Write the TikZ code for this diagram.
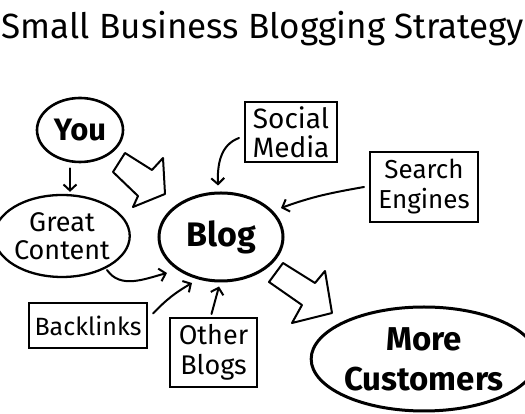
\documentclass[tikz,border=0pt]{standalone}
\usepackage{fontspec}
\setmainfont{Fira Sans}
\usetikzlibrary{shapes.geometric,arrows.meta,calc}
\begin{document}
\begin{tikzpicture}[x=1pt,y=1pt,
  oval/.style={ellipse, draw, line width=2.6pt, inner sep=0pt, align=center},
  box/.style={rectangle, draw, line width=2pt, inner sep=0pt, align=center},
  conn/.style={line width=2pt, line cap=round, -{Straight Barb[length=6pt,width=13pt,line width=2pt]}},
  fat/.style={line width=2pt, line join=round, fill=white}]
\useasboundingbox (0,0) rectangle (525,414);
\fill[white] (0,0) rectangle (525,414);
% title
\node[font=\fontsize{35}{40}\selectfont] (title) at (263,385) {Small Business Blogging Strategy};
% nodes
\node[oval, minimum width=86, minimum height=64, font=\bfseries\fontsize{31}{36}\selectfont] (you) at (80,284) {You};
\node[oval, line width=2.3pt, minimum width=122, minimum height=82, font=\fontsize{27}{28}\selectfont] (great) at (62,178) {Great\\Content};
\node[oval, line width=3pt, minimum width=124, minimum height=88, font=\bfseries\fontsize{34}{40}\selectfont] (blog) at (221,177) {Blog};
\node[box, minimum width=92, minimum height=60, font=\fontsize{28}{29}\selectfont] (social) at (291,282) {Social\\Media};
\node[box, minimum width=108, minimum height=70, font=\fontsize{26}{30}\selectfont] (search) at (424,227) {Search\\Engines};
\node[box, minimum width=118, minimum height=45, font=\fontsize{25}{28}\selectfont] (back) at (88,88.5) {Backlinks};
\node[box, minimum width=87, minimum height=69, font=\fontsize{27}{30}\selectfont] (other) at (213.5,61.5) {Other\\Blogs};
\node[oval, line width=3pt, minimum width=196, minimum height=104, font=\bfseries\fontsize{33}{40}\selectfont] (more) at (424,55) {More\\Customers};
% connectors
\draw[conn] ([xshift=-10pt,yshift=-5pt]you.south) -- ([xshift=8pt,yshift=2pt]great.north);
\draw[conn] ([xshift=-5pt,yshift=-6pt]social.west) to[out=200,in=92] ([xshift=-3pt,yshift=6pt]blog.north);
\draw[conn] ([xshift=-5pt]search.west) to[out=190,in=20] ($(blog.center)+(60,29)$);
\draw[conn] ($(great.center)+(45,-34)$) to[out=-55,in=195] ($(blog.center)+(-54,-36)$);
\draw[conn] ([xshift=5pt,yshift=12pt]back.east) to[bend left=8] ($(blog.center)+(-29,-46)$);
\draw[conn] ([xshift=-2pt,yshift=3pt]other.north) -- ([xshift=-2pt,yshift=-4pt]blog.south);
% block arrows
\draw[fat] (113,242) -- (125,261) -- (152,244) -- (163,256) -- (165,220) -- (133,207) -- (138,218) -- cycle;
\draw[fat] (269,132) -- (283,151) -- (315,131) -- (325,143) -- (332,101) -- (292,91) -- (302,109) -- cycle;
\end{tikzpicture}
\end{document}
